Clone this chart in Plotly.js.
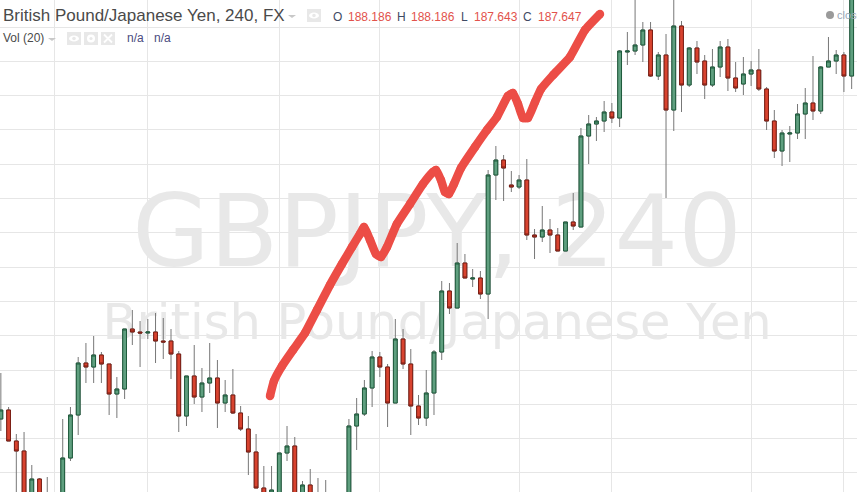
<!DOCTYPE html>
<html><head><meta charset="utf-8">
<script src="https://cdn.plot.ly/plotly-3.0.1.min.js"></script>
<style>html,body{margin:0;padding:0;background:#fff;overflow:hidden}#c{width:857px;height:492px}</style>
</head><body><div id="c"></div>
<script>
var opens=[181.62,181.80,181.18,180.98,180.00,180.42,180.00,179.90,180.00,180.84,181.70,182.74,182.66,182.90,182.72,182.12,182.22,183.42,183.36,183.34,183.36,183.18,183.18,182.92,181.68,182.48,182.06,182.34,182.44,181.94,182.10,181.74,181.42,180.96,180.24,180.00,180.00,180.94,181.08,180.00,180.30,180.00,179.90,179.90,179.90,180.00,181.48,181.72,182.24,182.86,182.66,181.94,183.22,182.72,181.88,181.64,182.14,182.96,184.18,183.84,184.74,184.42,184.44,184.12,186.50,186.80,186.30,186.26,186.40,185.30,185.26,185.40,185.30,184.98,185.56,185.46,187.28,187.52,187.58,187.76,187.64,188.96,188.98,189.10,189.40,188.48,188.90,187.80,189.48,188.30,189.04,188.78,188.30,188.66,189.06,188.44,188.32,188.52,188.60,188.22,187.58,186.98,187.32,187.34,187.72,187.94,187.78,188.66,188.78,188.90,188.48];
var highs=[182.54,181.86,181.32,181.36,180.70,180.44,180.46,180.00,181.62,181.86,182.86,183.14,183.28,182.96,182.72,182.46,183.42,183.80,183.58,183.62,183.74,183.64,183.42,182.98,182.48,183.10,182.64,183.14,182.80,182.40,182.62,181.88,181.68,181.32,180.68,180.68,180.94,181.48,181.26,180.38,180.62,180.44,180.40,180.00,180.00,181.62,182.04,182.40,182.98,182.96,182.72,183.62,183.42,183.02,182.10,182.60,183.00,184.38,184.34,185.14,184.92,184.62,184.58,186.60,187.08,186.90,186.58,186.50,186.82,185.42,185.88,185.62,185.44,185.56,186.14,187.44,187.70,187.66,187.98,187.94,189.00,189.36,190.10,189.56,189.56,188.96,189.32,190.20,189.58,189.06,189.18,188.90,189.02,189.18,189.22,188.76,188.86,188.78,189.02,188.26,187.80,187.40,187.48,187.92,188.24,188.88,188.68,189.26,189.00,188.96,190.40];
var lows=[181.38,181.18,180.00,180.00,180.00,180.00,179.80,179.70,180.00,180.78,181.30,182.34,182.34,182.34,181.70,181.64,182.02,183.10,182.66,183.22,182.74,182.82,182.42,181.36,181.48,181.92,181.76,182.14,181.44,181.76,181.72,181.38,180.50,180.24,180.00,180.00,180.00,180.78,180.00,180.00,180.00,179.80,179.80,179.70,179.70,180.00,181.00,181.68,181.86,182.46,181.46,181.94,182.62,181.30,181.50,181.48,181.70,182.80,183.72,183.84,184.44,184.26,184.02,183.62,186.00,185.98,186.16,186.22,185.20,184.82,185.16,184.94,184.98,184.98,185.40,185.46,186.72,187.18,187.36,187.54,187.46,188.70,188.90,188.76,188.46,188.40,186.04,187.38,187.76,188.26,188.52,188.02,188.26,188.46,188.18,188.16,188.10,188.28,188.18,187.40,186.84,186.68,186.76,187.22,187.22,187.60,187.72,188.66,188.52,188.16,188.22];
var closes=[181.80,181.18,180.98,180.00,180.42,180.00,179.90,179.80,180.84,181.70,182.74,182.66,182.90,182.72,182.12,182.22,183.42,183.36,183.34,183.36,183.18,183.16,182.92,181.68,182.48,182.06,182.34,182.44,181.94,182.10,181.74,181.42,180.96,180.24,180.00,180.20,180.94,181.08,180.00,180.30,180.00,179.90,180.00,179.80,179.80,181.48,181.72,182.24,182.86,182.66,181.94,183.22,182.72,181.88,181.64,182.14,182.96,184.18,183.84,184.74,184.44,184.44,184.12,186.50,186.80,186.64,186.26,186.40,185.30,185.26,185.40,185.30,184.98,185.56,185.48,187.28,187.52,187.58,187.76,187.64,188.98,188.98,189.10,189.40,188.48,188.90,187.80,189.48,188.30,189.04,188.76,188.30,188.66,189.06,188.44,188.24,188.52,188.60,188.22,187.58,186.98,187.34,187.34,187.72,187.94,187.78,188.66,188.78,188.90,188.48,190.20];
var bars=opens.map(function(_,i){return i;});
var bodyHigh=opens.map(function(o,i){return Math.max(o,closes[i]);});
var bodyLow=opens.map(function(o,i){return Math.min(o,closes[i]);});

var sketchBars=[34.8,35.31,36.35,37.77,39.32,40.87,42.55,44.1,45.4,46.43,46.95,47.73,48.5,49.15,49.92,51.2,52.9,54.57,55.87,56.26,56.9,57.42,57.93,58.58,59.49,61.3,62.85,64.14,65.56,66.2,66.86,67.5,68.15,69.06,69.84,71.4,73.58,75.52,77.46];
var sketchPrices=[182.08,182.38,182.68,183.00,183.34,183.80,184.30,184.72,185.06,185.32,185.46,185.20,184.92,184.86,185.06,185.52,185.92,186.32,186.56,186.60,186.40,186.16,186.12,186.32,186.64,187.06,187.40,187.66,188.08,188.14,187.92,187.64,187.64,187.96,188.22,188.50,188.86,189.40,189.72];

var gridBars=[7,19,36,49,67,79,97,109];
var xRange=[-0.11,110.69], yRange=[180.16,190];
var GREEN='#5f9f7f', GREEN_D='#1e5b3c', RED='#d8432f', RED_D='#7b1e14', WICK='#777777';
var F='"Liberation Sans",Arial,sans-serif';

var traces=[
 {type:'scatter',mode:'text',x:[56.4],y:[185.18],text:['GBPJPY, 240'],textposition:'middle center',
  textfont:{family:'"DejaVu Sans"',size:100,color:'#e8e8e8'},hoverinfo:'skip',showlegend:false,xaxis:'x',yaxis:'y'},
 {type:'scatter',mode:'text',x:[56.4],y:[183.46],text:['British Pound/Japanese Yen'],textposition:'middle center',
  textfont:{family:'"DejaVu Sans"',size:49.5,color:'#e8e8e8'},hoverinfo:'skip',showlegend:false,xaxis:'x',yaxis:'y'},
 {type:'candlestick',x:bars,open:opens,high:highs,low:lows,close:closes,whiskerwidth:0,
  increasing:{line:{color:WICK,width:1},fillcolor:GREEN},decreasing:{line:{color:WICK,width:1},fillcolor:RED},
  showlegend:false,xaxis:'x2',yaxis:'y2'},
 {type:'candlestick',x:bars,open:opens,high:bodyHigh,low:bodyLow,close:closes,whiskerwidth:0,
  increasing:{line:{color:GREEN_D,width:1},fillcolor:GREEN},decreasing:{line:{color:RED_D,width:1},fillcolor:RED},
  showlegend:false,xaxis:'x2',yaxis:'y2'},
 {type:'scatter',mode:'lines+markers',x:sketchBars,y:sketchPrices,line:{color:'#ec4d46',width:8.5,shape:'spline',smoothing:0.4},
  marker:{color:'#ec4d46',size:8.5},showlegend:false,xaxis:'x2',yaxis:'y2'}
];

function t(x,y,s,size,color){return {xref:'paper',yref:'paper',x:x/857,y:1-y/492,xanchor:'left',yanchor:'middle',text:s,showarrow:false,
  font:{family:F,size:size,color:color},borderpad:0,borderwidth:0};}
function box(x0,y0,x1,y1,c){return {type:'rect',xref:'paper',yref:'paper',x0:x0/857,x1:x1/857,y0:1-y0/492,y1:1-y1/492,fillcolor:c,line:{width:0},layer:'above'};}
function dot(cx,cy,r,c){return {type:'circle',xref:'paper',yref:'paper',x0:(cx-r)/857,x1:(cx+r)/857,y0:1-(cy-r)/492,y1:1-(cy+r)/492,fillcolor:c,line:{width:0},layer:'above'};}
function eye(cx,cy){return {type:'circle',xref:'paper',yref:'paper',x0:(cx-5)/857,x1:(cx+5)/857,y0:1-(cy-3)/492,y1:1-(cy+3)/492,fillcolor:'#ffffff',line:{width:0},layer:'above'};}
function cross(cx,cy){var a=4;return {type:'path',xref:'paper',yref:'paper',path:'M'+(cx-a)/857+','+(1-(cy-a)/492)+' L'+(cx+a)/857+','+(1-(cy+a)/492)+' M'+(cx-a)/857+','+(1-(cy+a)/492)+' L'+(cx+a)/857+','+(1-(cy-a)/492),line:{color:'#ffffff',width:1.8},layer:'above'};}
function tri(x,y){return {type:'path',xref:'paper',yref:'paper',path:'M'+x/857+','+(1-y/492)+' L'+(x+8)/857+','+(1-y/492)+' L'+(x+4)/857+','+(1-(y+3)/492)+' Z',fillcolor:'#c8c8c8',line:{width:0},layer:'above'};}

var HEAD='#4a4a4a', VAL='#e2524b', LBL='#3f4a63', NA='#4b4a80', BOX='#e8e8e8';
var layout={width:857,height:492,margin:{l:0,r:0,t:0,b:0},paper_bgcolor:'#fff',plot_bgcolor:'#fff',showlegend:false,dragmode:false,
 xaxis:{range:xRange,tickmode:'array',tickvals:gridBars,showticklabels:false,ticks:'',showgrid:true,gridcolor:'#e6e6e6',gridwidth:1,zeroline:false,showline:false,rangeslider:{visible:false}},
 yaxis:{range:yRange,tickmode:'linear',tick0:189.46,dtick:0.686,showticklabels:false,ticks:'',showgrid:true,gridcolor:'#e6e6e6',gridwidth:1,zeroline:false,showline:false},
 xaxis2:{range:xRange,overlaying:'x',showticklabels:false,ticks:'',showgrid:false,zeroline:false,showline:false,rangeslider:{visible:false}},
 yaxis2:{range:yRange,overlaying:'y',showticklabels:false,ticks:'',showgrid:false,zeroline:false,showline:false},
 annotations:[
  t(3,16,'British Pound/Japanese Yen, 240, FX',17,HEAD),
  t(333,17.5,'O',12,LBL),t(348,17.5,'188.186',12,VAL),
  t(397,17.5,'H',12,LBL),t(411,17.5,'188.186',12,VAL),
  t(461,17.5,'L',12,LBL),t(474,17.5,'187.643',12,VAL),
  t(523,17.5,'C',12,LBL),t(538,17.5,'187.647',12,VAL),
  t(3,38,'Vol (20)',12,HEAD),
  t(127,38,'n/a',12,NA),t(154,38,'n/a',12,NA),
  t(837,15,'close',11,'#9aa7b5')
 ],
 shapes:[
  tri(288,15),tri(48,38),
  box(307,9,321,22,BOX),eye(314,15.5),dot(314,15.5,1.8,BOX),
  box(67,32,81,45,BOX),eye(74,38.5),dot(74,38.5,1.8,BOX),
  box(84,32,98,45,BOX),dot(91,38.5,4,'#ffffff'),dot(91,38.5,1.6,BOX),
  box(101,32,115,45,BOX),cross(108,38.5),
  dot(830,15,4,'#9a9a9a')
 ]
};
Plotly.newPlot('c',traces,layout,{displayModeBar:false,staticPlot:true});
</script></body></html>
